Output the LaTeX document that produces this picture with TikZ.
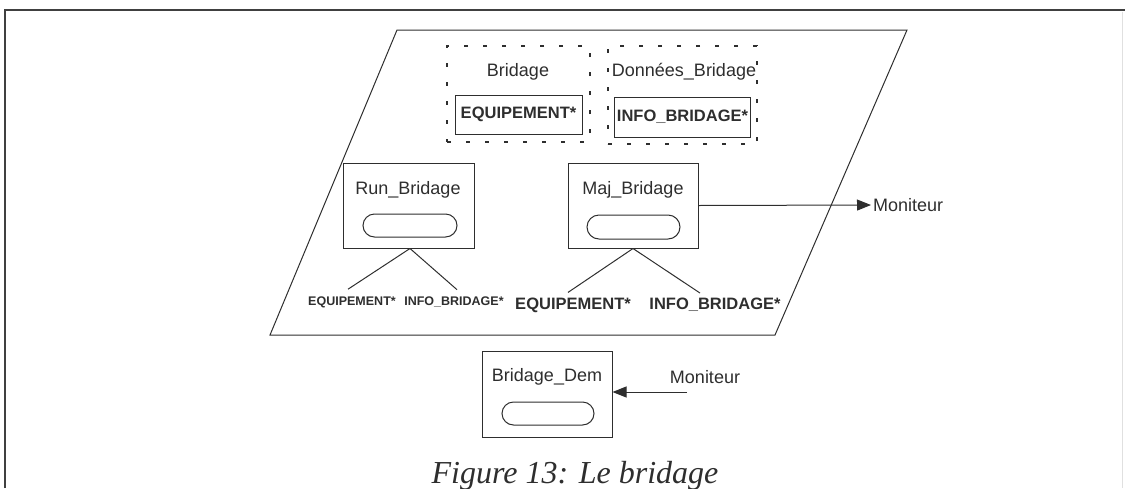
\documentclass[tikz,border=0pt]{standalone}
\usepackage{fontspec}
\setmainfont{Liberation Serif}
\newfontfamily\arialf{Liberation Sans}
\usetikzlibrary{arrows.meta}
\definecolor{ink}{HTML}{2E2E2E}
\tikzset{
  ln/.style={draw=ink, line width=1pt},
  lbl/.style={font=\arialf\fontsize{18}{20}\selectfont, text=ink, inner sep=2pt},
  bigb/.style={font=\arialf\bfseries\fontsize{16.5}{18}\selectfont, text=ink, inner sep=2pt},
  smallb/.style={font=\arialf\bfseries\fontsize{12.5}{14}\selectfont, text=ink, inner sep=2pt},
  group/.style={draw=ink, line width=1.1pt, dash pattern=on 4pt off 15pt},
  procbox/.style={ln, rectangle, inner sep=0pt},
  pill/.style={ln, rectangle, rounded corners=11.5pt, minimum height=23pt, inner sep=0pt},
  arr/.style={ln, -{Triangle[length=14pt,width=11pt]}},
}
\begin{document}
\begin{tikzpicture}[x=1pt, y=-1pt]
\useasboundingbox (0,0) rectangle (1125,488);

% page frame
\draw[line width=2.6pt, black!75] (5,488) -- (5,10) -- (1125,10);
\draw[line width=0.8pt, black!12] (1122,12) -- (1122,488);

% parallelogram enclosing the module
\draw[ln] (397,30) -- (907,30) -- (775,335) -- (270,335) -- cycle;

% data groups
\node[group, minimum width=143pt, minimum height=96pt] (gB) at (518.5,94) {};
\node[group, minimum width=149pt, minimum height=98pt] (gD) at (682.5,95) {};
\node[lbl] (tB) at (518,72) {Bridage};
\node[lbl] (tD) at (684,72) {Données\_Bridage};
\node[procbox, bigb, minimum width=127pt, minimum height=39pt] (eqB) at (518.5,114.5) {EQUIPEMENT*};
\node[procbox, bigb, minimum width=131pt, minimum height=40pt] (inB) at (682.5,117) {INFO\_BRIDAGE*};

% Run_Bridage
\node[procbox, minimum width=131pt, minimum height=85pt] (run) at (408.5,205.5) {};
\node[lbl] (runT) at (408,190) {Run\_Bridage};
\node[pill, minimum width=94pt] (runP) at (410,225.5) {};
\node[smallb] (re1) at (352,302) {EQUIPEMENT*};
\node[smallb] (ri1) at (454,302) {INFO\_BRIDAGE*};
\draw[ln] ([xshift=1.5pt]run.south) -- ([xshift=-4pt,yshift=5pt]re1.north);
\draw[ln] ([xshift=1.5pt]run.south) -- ([xshift=3pt,yshift=5pt]ri1.north);

% Maj_Bridage
\node[procbox, minimum width=130pt, minimum height=85pt] (maj) at (633,205.5) {};
\node[lbl] (majT) at (633,190) {Maj\_Bridage};
\node[pill, minimum width=93pt, minimum height=24pt, rounded corners=12pt] (majP) at (633.5,227) {};
\node[bigb] (re2) at (573,305) {EQUIPEMENT*};
\node[bigb] (ri2) at (715,305) {INFO\_BRIDAGE*};
\draw[ln] (maj.south) -- ([xshift=-5pt,yshift=3pt]re2.north);
\draw[ln] (maj.south) -- ([xshift=-15pt,yshift=3pt]ri2.north);

\node[lbl, anchor=west] (mon1) at (871,205) {Moniteur};
\draw[arr] (maj.east) -- (mon1.west);

% Bridage_Dem
\node[procbox, minimum width=130pt, minimum height=86pt] (dem) at (547,394) {};
\node[lbl] (demT) at (547,377) {Bridage\_Dem};
\node[pill, minimum width=92pt] (demP) at (548,413.5) {};
\node[lbl] (mon2) at (705,377) {Moniteur};
\coordinate (m2s) at (687,392);
\draw[arr] (m2s) -- (m2s -| dem.east);

% caption
\node[anchor=base, font=\itshape\fontsize{32}{36}\selectfont, text=ink, inner sep=0pt] (cap) at (575,483) {Figure 13: Le bridage};
\end{tikzpicture}
\end{document}
